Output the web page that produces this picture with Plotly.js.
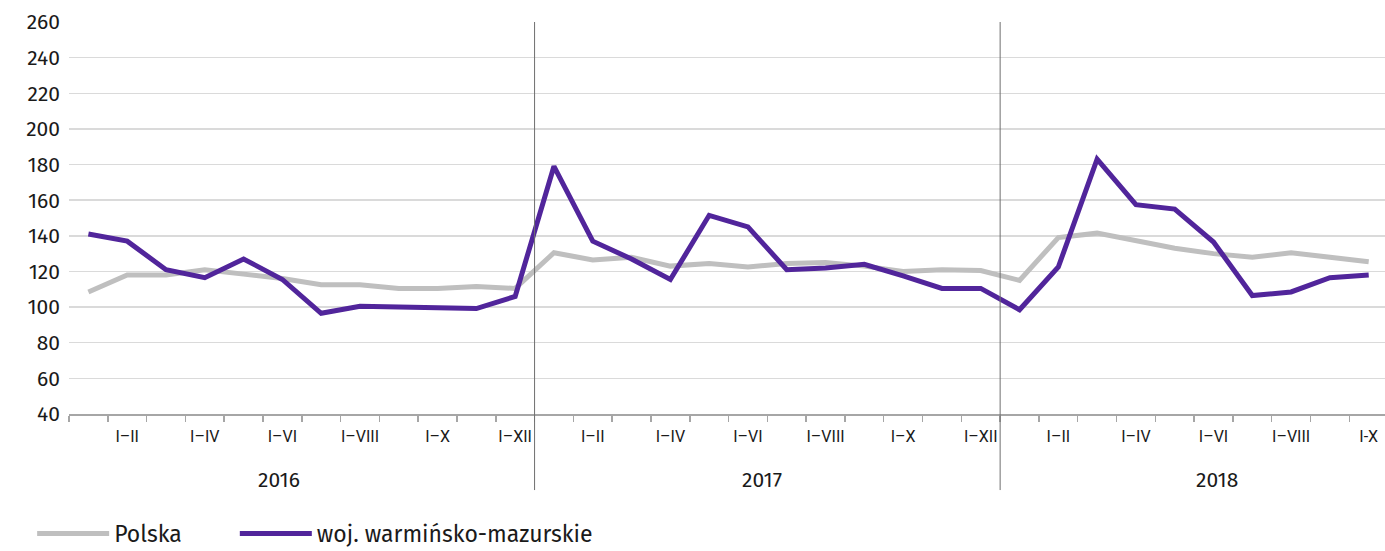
<!DOCTYPE html>
<html>
<head>
<meta charset="utf-8">
<script src="https://cdn.plot.ly/plotly-3.0.1.min.js"></script>
<style>html,body{margin:0;padding:0;background:#fff;}#chart{width:1385px;height:551px;}</style>
</head>
<body>
<div id="chart"></div>
<script>
const years = ['2016', '2017', '2018'];
const periods2016 = ['I','I–II','I–III','I–IV','I–V','I–VI','I–VII','I–VIII','I–IX','I–X','I–XI','I–XII'];
const periods2017 = ['I','I–II','I–III','I–IV','I–V','I–VI','I–VII','I–VIII','I–IX','I–X','I–XI','I–XII'];
const periods2018 = ['I','I–II','I–III','I–IV','I–V','I–VI','I–VII','I–VIII','I–IX','I-X'];

const polska2016 = [108.5, 118, 118, 121, 118.5, 116, 112.5, 112.5, 110.5, 110.5, 111.5, 110.5];
const polska2017 = [130.5, 126.5, 128, 123, 124.5, 122.5, 124.5, 125, 123, 120, 121, 120.5];
const polska2018 = [115, 139, 141.5, 137.5, 133, 130, 128, 130.5, 128, 125.5];

const wm2016 = [141, 137, 121, 116.5, 127, 115.5, 96.5, 100.5, 100, 99.8, 99.2, 106];
const wm2017 = [179, 137, 127, 115.5, 151.5, 145, 121, 122, 124, 117.5, 110.5, 110.5];
const wm2018 = [98.5, 122.5, 183, 157.5, 155, 136.5, 106.5, 108.5, 116.5, 118];

const seriesNames = ['Polska', 'woj. warmińsko-mazurskie'];
const yTicks = [40, 60, 80, 100, 120, 140, 160, 180, 200, 220, 240, 260];

// layout-only: where the year captions sit (in category-index units)
const yearLabelPos = [4.9, 17.35, 29.1];

// build helpers
const periodsByYear = [periods2016, periods2017, periods2018];
const allPeriods = [].concat(...periodsByYear);
const xIdx = allPeriods.map((_, i) => i);
const polska = [].concat(polska2016, polska2017, polska2018);
const wm = [].concat(wm2016, wm2017, wm2018);

const labelVals = [], labelText = [];
let offset = 0;
const yearStarts = [];
periodsByYear.forEach(p => {
  yearStarts.push(offset);
  p.forEach((lab, j) => { if (j % 2 === 1) { labelVals.push(offset + j); labelText.push(lab); } });
  offset += p.length;
});
const boundaries = [];
for (let i = 0; i <= allPeriods.length; i++) boundaries.push(i - 0.5);

const traces = [
  {x: xIdx, y: polska, name: seriesNames[0], type: 'scatter', mode: 'lines',
   line: {color: '#bfbfbf', width: 5}, legend: 'legend'},
  {x: xIdx, y: wm, name: seriesNames[1], type: 'scatter', mode: 'lines',
   line: {color: '#51259b', width: 5}, legend: 'legend2'}
];

const shapes = [];
const annotations = [];
yearStarts.forEach((s, k) => {
  if (k > 0) {
    shapes.push({type: 'line', xref: 'x', yref: 'paper', x0: s - 0.5, x1: s - 0.5, y0: 1, y1: -0.194,
      line: {color: '#6e6e6e', width: 1}});
  }
  annotations.push({xref: 'x', yref: 'paper', x: yearLabelPos[k], y: -0.168, yanchor: 'middle',
    text: years[k], showarrow: false, font: {size: 21, color: '#1a1a1a'}});
});

const legendCommon = {orientation: 'h', xanchor: 'left', y: -0.305, yanchor: 'middle',
  font: {size: 23, color: '#1a1a1a'}, itemwidth: 72, bgcolor: 'rgba(0,0,0,0)'};

const layout = {
  width: 1385, height: 551,
  margin: {l: 69, r: 0, t: 22, b: 137, autoexpand: false},
  paper_bgcolor: '#fff', plot_bgcolor: '#fff',
  font: {family: 'Fira Sans, Noto Sans, sans-serif', color: '#1a1a1a'},
  showlegend: true,
  legend: Object.assign({}, legendCommon, {x: -0.028}),
  legend2: Object.assign({}, legendCommon, {x: 0.126}),
  xaxis: {
    range: [-0.5, 33.42], showgrid: false, zeroline: false,
    tickmode: 'array', tickvals: labelVals, ticktext: labelText, ticks: '',
    tickfont: {size: 16, family: 'Roboto, sans-serif', color: '#1a1a1a'},
    ticklabelstandoff: 7,
    showline: true, linecolor: '#a6a6a6', linewidth: 1.5,
    minor: {tickmode: 'array', tickvals: boundaries, ticks: 'outside', ticklen: 6, tickwidth: 1.5, tickcolor: '#a6a6a6', showgrid: false}
  },
  yaxis: {
    range: [40, 260], tickmode: 'array', tickvals: yTicks,
    showgrid: true, gridcolor: '#dadada', gridwidth: 1.5, zeroline: false, showline: false,
    ticks: '', tickfont: {size: 21, color: '#1a1a1a'}, ticklabelstandoff: 8
  },
  shapes: shapes,
  annotations: annotations
};

Plotly.newPlot('chart', traces, layout, {staticPlot: true, displayModeBar: false});
</script>
</body>
</html>
